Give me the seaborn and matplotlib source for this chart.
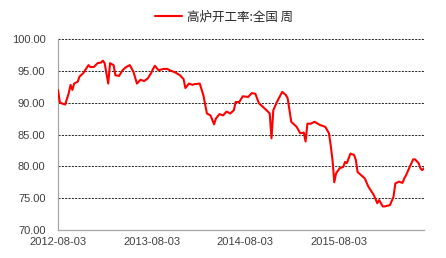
import matplotlib
matplotlib.use("Agg")
import matplotlib.pyplot as plt
import seaborn as sns
import pandas as pd

dates = [
    "2012-08-03", "2012-08-10", "2012-08-17", "2012-08-31", "2012-09-14", "2012-09-21",
    "2012-09-28", "2012-10-05", "2012-10-19", "2012-10-26", "2012-11-09", "2012-11-30",
    "2012-12-07", "2012-12-21", "2013-01-04", "2013-01-18", "2013-01-25", "2013-02-01",
    "2013-02-15", "2013-02-22", "2013-03-08", "2013-03-15", "2013-03-29", "2013-04-12",
    "2013-04-26", "2013-05-10", "2013-05-24", "2013-06-07", "2013-06-21", "2013-07-05",
    "2013-07-19", "2013-08-02", "2013-08-09", "2013-08-16", "2013-08-30", "2013-09-20",
    "2013-10-04", "2013-10-18", "2013-11-01", "2013-11-22", "2013-12-06", "2013-12-13",
    "2013-12-27", "2014-01-10", "2014-01-17", "2014-02-07", "2014-02-21", "2014-03-07",
    "2014-03-21", "2014-04-04", "2014-04-11", "2014-04-25", "2014-05-09", "2014-05-23",
    "2014-06-06", "2014-06-20", "2014-06-27", "2014-07-11", "2014-07-25", "2014-08-15",
    "2014-08-29", "2014-09-12", "2014-09-26", "2014-10-10", "2014-10-31", "2014-11-07",
    "2014-11-14", "2014-11-21", "2014-12-05", "2014-12-26", "2015-01-09", "2015-01-16",
    "2015-01-30", "2015-02-20", "2015-03-06", "2015-03-20", "2015-03-27", "2015-04-03",
    "2015-04-17", "2015-05-01", "2015-05-22", "2015-06-12", "2015-06-26", "2015-07-03",
    "2015-07-10", "2015-07-17", "2015-07-24", "2015-08-07", "2015-08-21", "2015-08-28",
    "2015-09-04", "2015-09-18", "2015-10-02", "2015-10-09", "2015-10-16", "2015-10-30",
    "2015-11-13", "2015-11-27", "2015-12-18", "2016-01-01", "2016-01-08", "2016-01-22",
    "2016-01-29", "2016-02-19", "2016-03-04", "2016-03-11", "2016-03-25", "2016-04-08",
    "2016-04-15", "2016-04-22", "2016-05-06", "2016-05-20", "2016-05-27", "2016-06-10",
    "2016-06-17", "2016-06-24", "2016-07-01",
]
values = [
    92.0, 90.1, 89.9, 89.7, 91.5, 92.8,
    92.0, 93.0, 93.3, 94.1, 94.6, 95.9,
    95.6, 95.6, 96.2, 96.3, 96.6, 96.2,
    93.0, 96.2, 95.9, 94.3, 94.2, 95.1,
    95.6, 95.9, 94.9, 93.0, 93.6, 93.4,
    93.8, 94.7, 95.3, 95.8, 95.1, 95.3,
    95.3, 95.0, 94.8, 94.3, 93.7, 92.3,
    93.0, 92.8, 92.9, 93.0, 91.2, 88.3,
    88.0, 86.6, 87.5, 88.2, 88.0, 88.6,
    88.3, 88.8, 90.1, 90.1, 91.0, 90.9,
    91.5, 91.4, 89.9, 89.4, 88.6, 88.3,
    84.4, 88.8, 90.1, 91.7, 91.2, 90.7,
    87.0, 86.2, 85.2, 85.3, 83.9, 86.7,
    86.7, 87.0, 86.5, 86.2, 85.2, 83.3,
    81.0, 77.5, 78.9, 79.7, 79.9, 80.7,
    80.5, 82.0, 81.8, 81.0, 79.1, 78.6,
    78.1, 76.8, 75.5, 74.2, 74.7, 73.7,
    73.7, 73.9, 75.2, 77.3, 77.6, 77.4,
    78.1, 78.6, 79.9, 81.1, 81.1, 80.5,
    79.7, 79.4, 79.7,
]
series_name = "高炉开工率:全国 周"
x_ticks = ["2012-08-03", "2013-08-03", "2014-08-03", "2015-08-03"]
y_ticks = [70, 75, 80, 85, 90, 95, 100]

sns.set_style("white")
plt.rcParams['font.family'] = ['Liberation Sans', 'Noto Sans CJK SC', 'DejaVu Sans']

df = pd.DataFrame({"date": pd.to_datetime(dates), "value": values, "series": series_name})

fig = plt.figure(figsize=(4.46, 2.58), dpi=100)
ax = fig.add_axes([58 / 446, 1 - 230 / 258, (424 - 58) / 446, (230 - 39) / 258])

for yv in y_ticks[1:]:
    ax.axhline(yv, color="black", linewidth=0.6, linestyle=(0, (2.5, 1.5)), zorder=1)

sns.lineplot(data=df, x="date", y="value", hue="series", palette=["#FF0000"],
             linewidth=1.5, ax=ax, zorder=3, legend=True)

ax.set_ylim(70, 100)
ax.set_xlim(pd.Timestamp(dates[0]), pd.Timestamp(dates[-1]))
ax.set_yticks(y_ticks)
ax.set_yticklabels([f"{v:.2f}" for v in y_ticks])
ax.set_xticks(pd.to_datetime(x_ticks))
ax.set_xticklabels(x_ticks)
ax.set_xlabel("")
ax.set_ylabel("")

for s in ["top", "right"]:
    ax.spines[s].set_visible(False)
for s in ["left", "bottom"]:
    ax.spines[s].set_color("#A6A6A6")
    ax.spines[s].set_linewidth(0.9)
ax.tick_params(axis="both", length=3, width=0.8, color="#A6A6A6", labelsize=8,
               labelcolor="#404040", direction="out")
ax.tick_params(axis="y", pad=6)
ax.tick_params(axis="x", pad=2)
ax.grid(False)

handles, labels = ax.get_legend_handles_labels()
ax.get_legend().remove()
fig.legend(handles, labels, loc="center", bbox_to_anchor=(224 / 446, 1 - 17 / 258),
           frameon=False, handlelength=2.2, handletextpad=0.4,
           prop={"family": ["Noto Sans CJK SC", "DejaVu Sans"], "size": 9})

fig.savefig("out.png", dpi=100)
